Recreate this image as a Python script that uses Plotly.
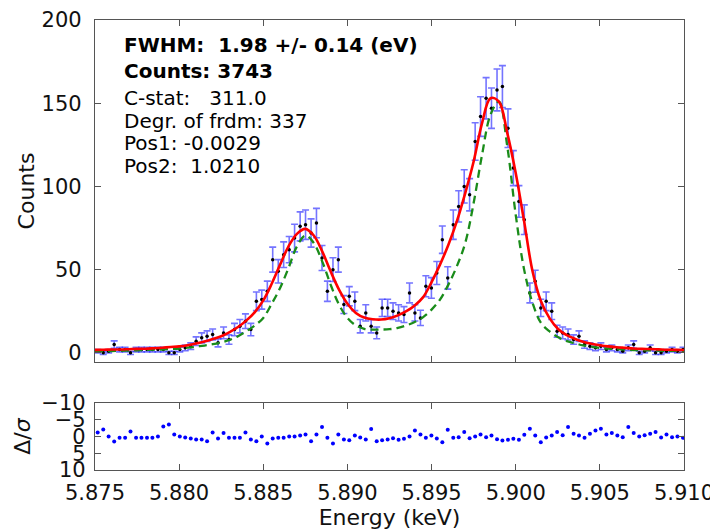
import plotly.graph_objects as go

# ---- data ----
energy = [5.87516, 5.87549, 5.87581, 5.87614, 5.87646, 5.87679, 5.87711, 5.87744, 5.87776, 5.87809,
          5.87841, 5.87874, 5.87906, 5.87939, 5.87971, 5.88004, 5.88036, 5.88069, 5.88101, 5.88134,
          5.88166, 5.88199, 5.88231, 5.88264, 5.88296, 5.88329, 5.88361, 5.88394, 5.88426, 5.88459,
          5.88491, 5.88524, 5.88556, 5.88589, 5.88621, 5.88654, 5.88686, 5.88719, 5.88751, 5.88784,
          5.88816, 5.88849, 5.88881, 5.88914, 5.88946, 5.88979, 5.89011, 5.89044, 5.89076, 5.89109,
          5.89141, 5.89174, 5.89206, 5.89239, 5.89271, 5.89304, 5.89336, 5.89369, 5.89401, 5.89434,
          5.89466, 5.89499, 5.89531, 5.89564, 5.89596, 5.89629, 5.89661, 5.89694, 5.89726, 5.89759,
          5.89791, 5.89824, 5.89856, 5.89889, 5.89921, 5.89954, 5.89986, 5.90019, 5.90051, 5.90084,
          5.90116, 5.90149, 5.90181, 5.90214, 5.90246, 5.90279, 5.90311, 5.90344, 5.90376, 5.90409,
          5.90441, 5.90474, 5.90506, 5.90539, 5.90571, 5.90604, 5.90636, 5.90669, 5.90701, 5.90734,
          5.90766, 5.90799, 5.90831, 5.90864, 5.90896, 5.90929, 5.90961, 5.90994]

counts = [1, 0, 1, 5, 2, 2, 0, 2, 2, 2, 2, 2,
          2, 0, 0, 2, 3, 4, 7, 9, 10, 11, 6, 12, 8, 14,
          16, 19, 14, 31, 32, 37, 56, 49, 59, 62, 69, 76, 77, 72, 78, 57, 37, 50, 56, 29,
          34, 31, 16, 24, 16, 12, 27, 27, 25, 24, 23, 36, 24, 21, 40, 39, 48, 68, 45, 77,
          88, 100, 95, 127, 142, 153, 147, 158, 160, 135, 111, 91, 80, 36, 43, 27, 31, 25,
          13, 12, 11, 8, 10, 5, 4, 3, 4, 2, 3, 2, 1, 3, 5, 0, 1, 3, 0, 0, 1, 2, 1, 2]

count_err = [1.0, 1.0, 1.0, 2.2, 1.4, 1.4, 1.0, 1.4, 1.4, 1.4, 1.4, 1.4,
             1.4, 1.0, 1.0, 1.4, 1.7, 2.0, 2.6, 3.0, 3.2, 3.3, 2.4, 3.5, 2.8, 3.7,
             4.0, 4.4, 3.7, 5.6, 5.7, 6.1, 7.5, 7.0, 7.7, 7.9, 8.3, 8.7, 8.8, 8.5, 8.8, 7.5,
             6.1, 7.1, 7.5, 5.4, 5.8, 5.6, 4.0, 4.9, 4.0, 3.5, 5.2, 5.2, 5.0, 4.9, 4.8, 6.0,
             4.9, 4.6, 6.3, 6.2, 6.9, 8.2, 6.7, 8.8, 9.4, 10.0, 9.7, 11.3, 11.9, 12.4, 12.1,
             12.6, 12.6, 11.6, 10.5, 9.5, 8.9, 6.0, 6.6, 5.2, 5.6, 5.0, 3.6, 3.5, 3.3, 2.8,
             3.2, 2.2, 2.0, 1.7, 2.0, 1.4, 1.7, 1.4, 1.0, 1.7, 2.2, 1.0, 1.0, 1.7, 1.0, 1.0,
             1.0, 1.4, 1.0, 1.4]

residuals = [-1.2, -2.1, 0.0, 1.5, 0.4, 0.4, -1.5, 0.4, 0.4, 0.4, 0.4, 0.0, -3.0, -3.6, -0.6,
             0.0, 0.3, 0.6, 0.9, 0.9, 1.4, -1.2, 0.6, -1.0, 0.4, 0.4, 0.4, -1.2, 0.9, 1.4,
             0.0, 2.1, 0.6, 0.4, 0.4, 0.0, 0.0, -0.3, -0.6, 1.4, -0.6, -2.8, 0.4, 2.1, -0.6,
             0.9, 1.1, -0.3, 0.3, 0.9, -2.2, 1.4, 1.1, 0.9, 0.5,
             1.0, 0.7, 0.0, -1.8, -0.6, 0.4, -0.3, 0.6, 1.7, -2.0, 0.4, 0.2, -1.3, 0.5, 0.0,
             -0.6, 0.2, -0.3, 0.8, 1.2, 1.0, 0.7, 1.0, -0.5, -2.3, -0.3, 1.7, 0.3, -0.3, -1.3,
             -0.4, -2.8, -0.8, -0.3, 0.4, -0.8, -1.8, -2.3, -0.6, -1.0, -0.3, 0.2, -2.8, -1.0,
             0.0, -0.4, -0.8, -1.3, 0.3, -0.6, 0.2, 0.0, 0.4]

model_energy = [5.8750, 5.8755, 5.8760, 5.8765, 5.8770, 5.8775, 5.8780, 5.8785, 5.8790, 5.8795,
                5.8800, 5.8805, 5.8810, 5.8815, 5.8820, 5.8825, 5.8830, 5.8835, 5.8840, 5.8845,
                5.8850, 5.8855, 5.8860, 5.8865, 5.8870, 5.8875, 5.8880, 5.8885, 5.8890, 5.8895,
                5.8900, 5.8905, 5.8910, 5.8915, 5.8920, 5.8925, 5.8930, 5.8935, 5.8940, 5.8945,
                5.8950, 5.8955, 5.8960, 5.8965, 5.8970, 5.8975, 5.8980, 5.8985, 5.8990, 5.8995,
                5.9000, 5.9005, 5.9010, 5.9015, 5.9020, 5.9025, 5.9030, 5.9035, 5.9040, 5.9045,
                5.9050, 5.9055, 5.9060, 5.9065, 5.9070, 5.9075, 5.9080, 5.9085, 5.9090, 5.9095,
                5.9100]

fit_total = [1.8, 1.9, 2.0, 2.0, 2.2, 2.4, 2.5, 2.8, 3.1, 3.5,
             3.9, 4.6, 5.6, 6.8, 8.3, 10.0, 12.5, 15.5, 19.5, 24.5,
             31.5, 41.5, 53.0, 64.0, 71.5, 74.5, 70.5, 61.0, 49.0, 38.0,
             29.5, 24.0, 21.2, 20.2, 20.0, 20.8, 22.5, 25.0, 28.5, 33.5,
             42.5, 53.0, 65.0, 79.0, 96.0, 115.0, 138.0, 153.0, 151.0, 132.0,
             108.0, 79.0, 49.0, 31.0, 21.0, 14.5, 10.8, 8.5, 6.7, 5.5,
             4.6, 3.9, 3.4, 3.0, 2.6, 2.4, 2.3, 2.1, 1.9, 1.8,
             1.7]

fit_intrinsic = [1.0, 1.1, 1.1, 1.2, 1.4, 1.5, 1.7, 1.9, 2.0, 2.3,
                 2.6, 3.1, 3.7, 4.4, 5.2, 6.3, 7.8, 10.0, 13.0, 16.5,
                 21.0, 29.5, 39.0, 51.0, 64.0, 70.5, 66.0, 55.0, 41.0, 29.0,
                 21.0, 16.5, 14.4, 14.0, 14.0, 14.2, 15.0, 16.5, 18.5, 21.5,
                 26.0, 32.0, 41.0, 52.0, 66.0, 90.0, 119.0, 143.0, 151.0, 124.0,
                 83.0, 50.0, 30.0, 18.0, 13.0, 9.5, 7.2, 5.8, 4.5, 3.7,
                 3.0, 2.5, 2.2, 2.0, 1.7, 1.6, 1.5, 1.3, 1.2, 1.2,
                 1.1]

x_tickvals = [5.875, 5.880, 5.885, 5.890, 5.895, 5.900, 5.905, 5.910]
x_ticktext = ["5.875", "5.880", "5.885", "5.890", "5.895", "5.900", "5.905", "5.910"]
y_tickvals = [0, 50, 100, 150, 200]
r_tickvals = [-10, -5, 0, 5, 10]

info_lines = [
    ("<b>FWHM:\u00a0\u00a01.98 +/- 0.14 (eV)</b>", 0.944),
    ("<b>Counts: 3743</b>", 0.887),
    ("C-stat:\u00a0\u00a0\u00a0311.0", 0.827),
    ("Degr. of frdm: 337", 0.776),
    ("Pos1: -0.0029", 0.726),
    ("Pos2:\u00a0\u00a01.0210", 0.675),
]

FONT = "DejaVu Sans"
FRAME = "#555555"

fig = go.Figure()

fig.add_trace(go.Scatter(
    x=energy, y=counts, mode="markers",
    marker=dict(color="black", size=3.5),
    error_y=dict(type="data", array=count_err, color="rgba(30,30,255,0.62)",
                 thickness=1.6, width=3.5),
    xaxis="x", yaxis="y", showlegend=False))

fig.add_trace(go.Scatter(
    x=model_energy, y=fit_intrinsic, mode="lines",
    line=dict(color="#1a8c1a", width=2.3, dash="8px,5px", shape="spline"),
    xaxis="x", yaxis="y", showlegend=False))

fig.add_trace(go.Scatter(
    x=model_energy, y=fit_total, mode="lines",
    line=dict(color="red", width=2.6, shape="spline"),
    xaxis="x", yaxis="y", showlegend=False))

fig.add_trace(go.Scatter(
    x=energy, y=residuals, mode="markers",
    marker=dict(color="blue", size=4),
    xaxis="x2", yaxis="y2", showlegend=False))

axis_common = dict(showline=True, linecolor=FRAME, linewidth=1.3, mirror="ticks",
                   ticks="inside", ticklen=6, tickcolor=FRAME, tickwidth=1,
                   showgrid=False, zeroline=False, automargin=False,
                   tickfont=dict(family=FONT, size=21, color="#111"))

# the page adds an 8px body margin, so the figure is sized to fit inside the window
fig.update_layout(
    width=710, height=523,
    margin=dict(l=87, r=34, t=12, b=61),
    paper_bgcolor="white", plot_bgcolor="white",
    font=dict(family=FONT, color="#111"),
    showlegend=False,
    xaxis=dict(domain=[0, 1], anchor="y", range=[5.875, 5.910],
               tickmode="array", tickvals=x_tickvals, showticklabels=False,
               **axis_common),
    yaxis=dict(domain=[0.24, 1], anchor="x", range=[-5.5, 200],
               tickmode="array", tickvals=y_tickvals, ticklabelstandoff=8,
               title=dict(text="Counts", font=dict(family=FONT, size=22), standoff=0),
               **axis_common),
    xaxis2=dict(domain=[0, 1], anchor="y2", range=[5.875, 5.910],
                tickmode="array", tickvals=x_tickvals, ticktext=x_ticktext,
                ticklabelstandoff=4,
                title=dict(text="Energy (keV)", font=dict(family=FONT, size=22), standoff=4),
                **axis_common),
    yaxis2=dict(domain=[0, 0.149], anchor="x2", range=[10, -10],
                tickmode="array", tickvals=r_tickvals, ticklabelstandoff=4,
                title=dict(text="\u0394/<i>\u03c3</i>", font=dict(family=FONT, size=22), standoff=4),
                **axis_common),
)

for text, ypos in info_lines:
    fig.add_annotation(x=0.046, y=ypos, xref="paper", yref="paper",
                       xanchor="left", yanchor="middle", showarrow=False,
                       text=text, font=dict(family=FONT, size=20, color="black"))

fig.write_html("out.html")
